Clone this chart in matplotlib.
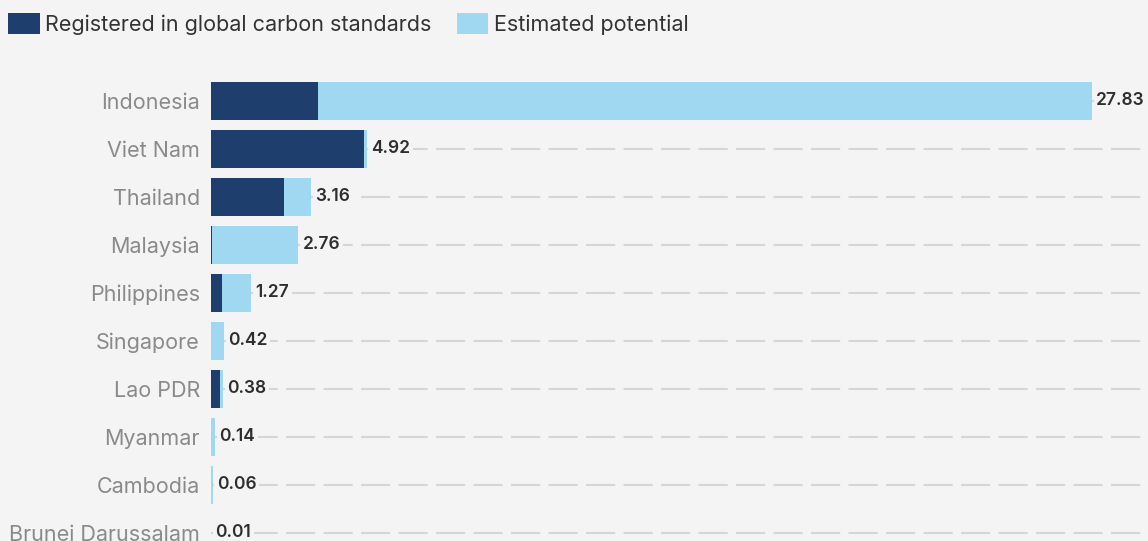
import matplotlib.pyplot as plt
import numpy as np

countries = ["Indonesia", "Viet Nam", "Thailand", "Malaysia", "Philippines",
             "Singapore", "Lao PDR", "Myanmar", "Cambodia", "Brunei Darussalam"]
registered = [3.38, 4.83, 2.31, 0.03, 0.35, 0.0, 0.29, 0.0, 0.0, 0.0]
totals = [27.83, 4.92, 3.16, 2.76, 1.27, 0.42, 0.38, 0.14, 0.06, 0.01]
potential = [t - r for t, r in zip(totals, registered)]

DARK = "#1e3f6d"
LIGHT = "#a0d7f1"
BG = "#f4f4f4"

plt.rcParams['font.family'] = ['Inter', 'DejaVu Sans']

fig = plt.figure(figsize=(11.48, 5.41), dpi=100, facecolor=BG)
ax = fig.add_axes([211 / 1148, 0, 937 / 1148, 466 / 541])
ax.set_facecolor(BG)

y = np.arange(len(countries))
for yi in y:
    ax.axhline(yi, color="#d6d6d6", lw=1.5, dashes=(14, 4), zorder=0)

ax.barh(y, registered, height=0.8, color=DARK, edgecolor="none", zorder=2,
        label="Registered in global carbon standards")
ax.barh(y, potential, left=registered, height=0.8, color=LIGHT, edgecolor="none",
        zorder=2, label="Estimated potential")

for yi, t in zip(y, totals):
    ax.annotate(f"{t:.2f}", (t, yi), xytext=(3, 0), textcoords="offset points",
                va="center", ha="left", fontsize=12.5, fontweight="semibold",
                color="#2e2e2e", zorder=3,
                bbox=dict(boxstyle="square,pad=0.15", fc=BG, ec="none"))

ax.set_xlim(0, 937 / 31.66)
ax.set_ylim(9.17, -0.54)
ax.set_yticks(y)
ax.set_yticklabels(countries, fontsize=15.5, color="#8a8a8a")
ax.tick_params(axis="y", length=0, pad=8)
ax.set_xticks([])
for s in ax.spines.values():
    s.set_visible(False)

fig.legend(loc="upper left", bbox_to_anchor=(-0.004, 1.0), ncol=2, frameon=False,
           fontsize=15.5, handlelength=1.45, handleheight=1.1, handletextpad=0.25,
           columnspacing=1.2, borderaxespad=0.2, labelcolor="#333333")

fig.savefig("out.png", dpi=100, facecolor=BG)
